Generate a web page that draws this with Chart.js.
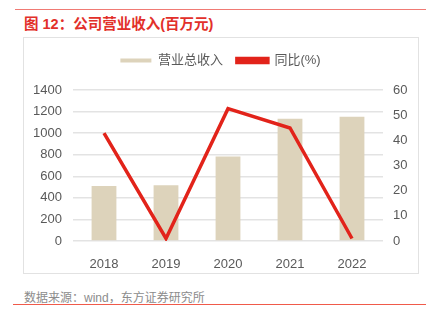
<!DOCTYPE html>
<html>
<head>
<meta charset="utf-8">
<script src="https://cdn.jsdelivr.net/npm/chart.js@4"></script>
<style>
  body { margin: 0; width: 435px; height: 325px; background: #fff; position: relative; overflow: hidden;
         font-family: "Liberation Sans", "Noto Sans CJK SC", sans-serif; }
  #topline { position: absolute; left: 15px; top: 9px; width: 411px; height: 1px; background: #f07a74; }
  #title { position: absolute; left: 24px; top: 12px; font-size: 14.5px; font-weight: bold; color: #e2302a;
           font-family: "Liberation Sans", "Noto Sans CJK SC", sans-serif; }
  #box { position: absolute; left: 23px; top: 37px; width: 394px; height: 235px; border: 1px solid #e2e2e2; }
  #wrap { position: absolute; left: 24px; top: 38px; width: 393px; height: 234px; }
  #source { position: absolute; left: 24px; top: 288px; font-size: 12px; color: #8c8c8c; }
  #botline { position: absolute; left: 13px; top: 304px; width: 413px; height: 1px; background: #f05a4a; }
</style>
</head>
<body>
<div id="topline"></div>
<div id="title">图 12：公司营业收入(百万元)</div>
<div id="box"></div>
<div id="wrap"><canvas id="chart" width="393" height="234"></canvas></div>
<div id="source">数据来源：wind，东方证券研究所</div>
<div id="botline"></div>
<script>
const years = ["2018", "2019", "2020", "2021", "2022"];
const revenue = [510, 516, 783, 1133, 1151];
const growth = [42.9, 1, 52.6, 44.9, 1];
const leftTicks = [0, 200, 400, 600, 800, 1000, 1200, 1400];
const rightTicks = [0, 10, 20, 30, 40, 50, 60];

const tickFont = { family: "'Liberation Sans', 'Noto Sans CJK SC', sans-serif", size: 13 };

// tweak legend box height so the plot starts where the original does
const legendGap = {
    id: "legendGap",
    afterInit(chart) {
        const fit = chart.legend.fit;
        chart.legend.fit = function () {
            fit.call(this);
            this.height += 13;
        };
    }
};

const ctx = document.getElementById("chart").getContext("2d");
const chart = new Chart(ctx, {
    data: {
        labels: years,
        datasets: [
            {
                type: "line",
                label: "同比(%)",
                data: growth,
                yAxisID: "y2",
                borderColor: "#e2231a",
                backgroundColor: "#e2231a",
                borderWidth: 3.5,
                pointRadius: 0,
                tension: 0,
                order: 0
            },
            {
                type: "bar",
                label: "营业总收入",
                data: revenue,
                yAxisID: "y",
                backgroundColor: "#ddd3bb",
                categoryPercentage: 0.8,
                barPercentage: 0.5,
                order: 1
            }
        ]
    },
    options: {
        animation: false,
        responsive: false,
        layout: { padding: { top: 2, left: 0, right: 0, bottom: 0 } },
        plugins: {
            tooltip: { enabled: false },
            legend: {
                position: "top",
                reverse: true,
                labels: {
                    boxWidth: 31,
                    boxHeight: 4,
                    padding: 14,
                    color: "#595959",
                    font: { family: "'Liberation Sans', 'Noto Sans CJK SC', sans-serif", size: 13 }
                }
            }
        },
        scales: {
            x: {
                grid: { display: false },
                border: { display: false },
                ticks: { color: "#595959", font: tickFont, padding: 8 },
                afterFit: s => { s.height = 31; }
            },
            y: {
                position: "left",
                min: 0,
                max: 1400,
                afterBuildTicks: s => { s.ticks = leftTicks.map(v => ({ value: v })); },
                grid: { color: "#e3e3e3", lineWidth: 1.5, drawTicks: false },
                border: { display: false },
                ticks: { color: "#595959", font: tickFont, padding: 11, callback: v => String(v) },
                afterFit: s => { s.width = 49; }
            },
            y2: {
                position: "right",
                min: 0,
                max: 60,
                afterBuildTicks: s => { s.ticks = rightTicks.map(v => ({ value: v })); },
                grid: { display: false, drawTicks: false },
                border: { display: false },
                ticks: { color: "#595959", font: tickFont, padding: 10, callback: v => String(v) },
                afterFit: s => { s.width = 34; }
            }
        }
    },
    plugins: [legendGap]
});
</script>
</body>
</html>
